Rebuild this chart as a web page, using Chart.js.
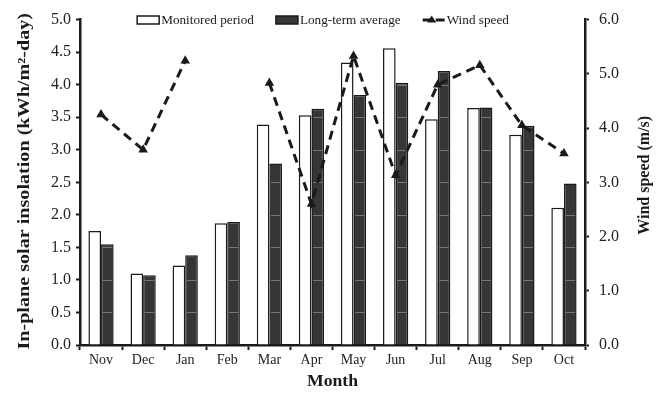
<!DOCTYPE html>
<html>
<head>
<meta charset="utf-8">
<script src="https://cdn.jsdelivr.net/npm/chart.js@4.4.1/dist/chart.umd.min.js"></script>
<style>
  html, body { margin: 0; padding: 0; background: #fff; }
  #wrap { width: 661px; height: 403px; }
</style>
</head>
<body>
<div id="wrap"><canvas id="c" width="661" height="403"></canvas></div>
<script>
// Monthly in-plane insolation and wind speed
const months = ['Nov', 'Dec', 'Jan', 'Feb', 'Mar', 'Apr', 'May', 'Jun', 'Jul', 'Aug', 'Sep', 'Oct'];
const monitored = [1.75, 1.10, 1.22, 1.87, 3.39, 3.53, 4.34, 4.56, 3.47, 3.64, 3.23, 2.11];
const longTerm  = [1.55, 1.07, 1.38, 1.89, 2.79, 3.63, 3.84, 4.03, 4.21, 3.65, 3.37, 2.48];
const windSpeed = [4.25, 3.60, 5.24, null, 4.83, 2.60, 5.33, 3.13, 4.80, 5.16, 4.05, 3.53];
const insolationTicks = [0, 0.5, 1, 1.5, 2, 2.5, 3, 3.5, 4, 4.5, 5];
const windTicks = [0, 1, 2, 3, 4, 5, 6];

const SERIF = '"Liberation Serif", "Times New Roman", serif';
const INK = '#1a1a1a';

// Faint rules across the dark bars at each insolation tick
const barRules = {
  id: 'barRules',
  afterDatasetDraw(chart, args) {
    if (args.index !== 2) return;
    const { ctx } = chart;
    const y = chart.scales.y;
    ctx.save();
    ctx.strokeStyle = 'rgba(140,140,140,0.75)';
    ctx.lineWidth = 1;
    args.meta.data.forEach(bar => {
      const half = bar.width / 2;
      insolationTicks.forEach(v => {
        const py = Math.round(y.getPixelForValue(v)) + 0.5;
        if (v > 0 && py > bar.y + 1) {
          ctx.beginPath();
          ctx.moveTo(bar.x - half + 1.5, py);
          ctx.lineTo(bar.x + half - 1.5, py);
          ctx.stroke();
        }
      });
    });
    ctx.restore();
  }
};

// Text drawn with a horizontal stretch along its own direction
function wideText(ctx, text, x, y, angle, stretch) {
  ctx.save();
  ctx.translate(x, y);
  ctx.rotate(angle);
  ctx.scale(stretch, 1);
  ctx.fillText(text, 0, 0);
  ctx.restore();
}

// Axis titles and legend
const decorations = {
  id: 'decorations',
  afterDraw(chart) {
    const { ctx, chartArea: a } = chart;
    ctx.save();
    ctx.fillStyle = INK;
    ctx.textAlign = 'center';
    ctx.textBaseline = 'middle';
    ctx.font = 'bold 16.5px ' + SERIF;

    wideText(ctx, 'Month', (a.left + a.right) / 2, 382, 0, 1.07);
    wideText(ctx, 'In-plane solar insolation (kWh/m\u00B2-day)', 25, (a.top + a.bottom) / 2 - 1, -Math.PI / 2, 1.22);
    wideText(ctx, 'Wind speed (m/s)', 645, (a.top + a.bottom) / 2 - 7, -Math.PI / 2, 0.97);

    // legend
    ctx.font = '12px ' + SERIF;
    ctx.textAlign = 'left';
    const stretch = 1.1;
    const ds = chart.data.datasets;
    const items = [ds[1], ds[2], ds[0]];
    const sample = 22, gapText = 2, gapItem = 22;
    const widths = items.map(d => sample + gapText + ctx.measureText(d.label).width * stretch);
    const total = widths.reduce((s, w) => s + w, 0) + gapItem * (items.length - 1);
    let x = 323 - total / 2;
    const ly = 20;
    items.forEach((d, i) => {
      if (d.type === 'line') {
        ctx.strokeStyle = INK;
        ctx.lineWidth = 3;
        ctx.setLineDash([10, 3]);
        ctx.beginPath();
        ctx.moveTo(x, ly);
        ctx.lineTo(x + sample, ly);
        ctx.stroke();
        ctx.setLineDash([]);
        ctx.fillStyle = INK;
        ctx.beginPath();
        const cx = x + sample / 2 - 2;
        ctx.moveTo(cx, ly - 4.5);
        ctx.lineTo(cx + 4.5, ly + 2.5);
        ctx.lineTo(cx - 4.5, ly + 2.5);
        ctx.closePath();
        ctx.fill();
      } else {
        ctx.fillStyle = d.backgroundColor;
        ctx.fillRect(x, ly - 4, sample, 8);
        ctx.strokeStyle = INK;
        ctx.lineWidth = 1.5;
        ctx.strokeRect(x, ly - 4, sample, 8);
      }
      ctx.fillStyle = INK;
      wideText(ctx, d.label, x + sample + gapText, ly + 1, 0, stretch);
      x += widths[i] + gapItem;
    });
    ctx.restore();
  }
};

new Chart(document.getElementById('c'), {
  data: {
    labels: months,
    datasets: [
      {
        type: 'line',
        label: 'Wind speed',
        data: windSpeed,
        yAxisID: 'y1',
        borderColor: INK,
        backgroundColor: INK,
        borderWidth: 3,
        borderDash: [9, 6],
        pointStyle: 'triangle',
        pointRadius: 5.5,
        pointBackgroundColor: INK,
        pointBorderWidth: 0,
        spanGaps: false,
        tension: 0,
        order: 0
      },
      {
        type: 'bar',
        label: 'Monitored period',
        data: monitored,
        yAxisID: 'y',
        backgroundColor: '#ffffff',
        borderColor: INK,
        borderWidth: 1.5,
        categoryPercentage: 0.6,
        barPercentage: 1.0,
        order: 1
      },
      {
        type: 'bar',
        label: 'Long-term average',
        data: longTerm,
        yAxisID: 'y',
        backgroundColor: '#363636',
        borderColor: INK,
        borderWidth: 1.5,
        categoryPercentage: 0.6,
        barPercentage: 1.0,
        order: 1
      }
    ]
  },
  options: {
    responsive: false,
    animation: false,
    layout: { padding: { top: 16, left: 0, right: 0, bottom: 0 } },
    plugins: {
      legend: { display: false },
      tooltip: { enabled: false }
    },
    scales: {
      x: {
        offset: true,
        grid: { display: true, drawOnChartArea: false, offset: true, tickLength: 5, tickWidth: 2, tickColor: INK },
        border: { display: true, color: INK, width: 2.5 },
        ticks: { color: '#222', font: { family: SERIF, size: 14 }, padding: 2, maxRotation: 0 },
        afterFit(s) { s.height = 58; }
      },
      y: {
        position: 'left',
        min: 0, max: 5,
        afterBuildTicks(s) { s.ticks = insolationTicks.map(v => ({ value: v })); },
        grid: { display: true, drawOnChartArea: false, tickLength: 4, tickWidth: 2, tickColor: INK },
        border: { display: true, color: INK, width: 2.5 },
        ticks: { color: '#222', font: { family: SERIF, size: 16 }, padding: 5, callback: v => Number(v).toFixed(1) },
        afterFit(s) { s.width = 80; }
      },
      y1: {
        position: 'right',
        min: 0, max: 6,
        afterBuildTicks(s) { s.ticks = windTicks.map(v => ({ value: v })); },
        grid: { display: true, drawOnChartArea: false, tickLength: 4, tickWidth: 2, tickColor: INK },
        border: { display: true, color: INK, width: 2.5 },
        ticks: { color: '#222', font: { family: SERIF, size: 16 }, padding: 10, callback: v => Number(v).toFixed(1) },
        afterFit(s) { s.width = 76; }
      }
    }
  },
  plugins: [barRules, decorations]
});
</script>
</body>
</html>
